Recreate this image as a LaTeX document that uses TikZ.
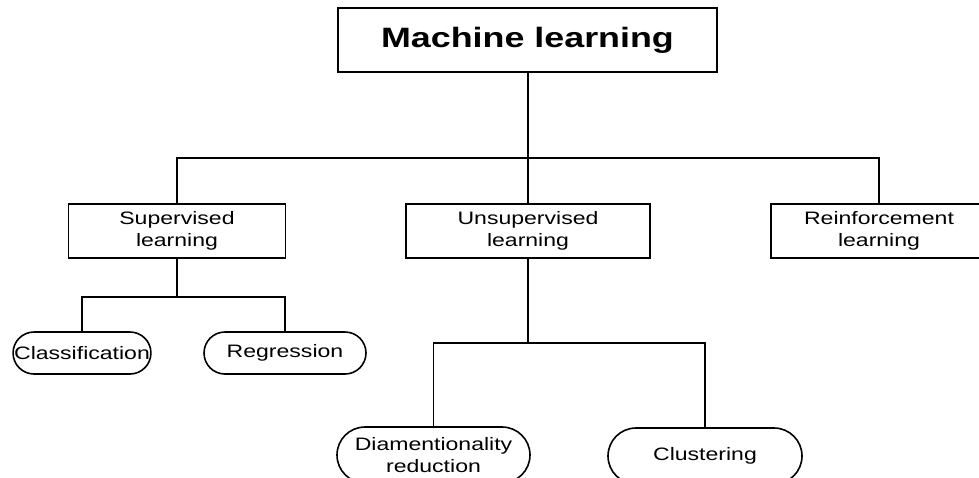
\documentclass[tikz,border=0pt]{standalone}
\usepackage{fontspec}
\newfontfamily\mlfont{Liberation Sans}[FakeStretch=1.28]
\usepackage{tikz}
\usetikzlibrary{positioning,calc,shapes.misc}
\tikzset{
  mlRoot/.style={draw, line width=1.6pt, minimum width=379pt, minimum height=64pt,
    inner sep=0pt, font=\mlfont\fontsize{28}{32}\selectfont\bfseries, align=center},
  mlBox/.style={draw, line width=1.6pt, minimum height=54pt, inner sep=0pt,
    font=\mlfont\fontsize{18}{22}\selectfont, align=center},
  mlLeaf/.style={draw, rounded rectangle, line width=1.6pt, inner xsep=0pt, inner ysep=0pt,
    font=\mlfont\fontsize{18}{22}\selectfont, align=center},
  %% Connectors
  mlLink/.style={line width=1.6pt},
}
\begin{document}
\begin{tikzpicture}[x=1pt, y=-1pt]
\useasboundingbox (0,0) rectangle (979,477);
%% Root
\node[mlRoot] (ml) at (527.5,40) {Machine learning};

%% Learning kinds
\node[mlBox, minimum width=217pt] (sup)    at (177,231) {Supervised\\learning};
\node[mlBox, minimum width=244pt] (unsup)  at (528,231) {Unsupervised\\learning};
\node[mlBox, minimum width=216pt] (reinf)  at (879,231) {Reinforcement\\learning};

%% Leaves
\node[mlLeaf, minimum width=136pt, minimum height=42pt] (classif) at (82,353)  {Classification};
\node[mlLeaf, minimum width=162pt, minimum height=42pt] (regr)    at (285,353) {Regression};
\node[mlLeaf, minimum width=193pt, minimum height=56pt] (dimred)  at (433.5,455) {Diamentionality\\reduction};
\node[mlLeaf, minimum width=194pt, minimum height=56pt] (clust)   at (705,456) {Clustering};

%% Tree links
\coordinate (topj) at (unsup.north |- 0,158);
\draw[mlLink] (ml.south -| unsup.north) -- (unsup.north);
\draw[mlLink] (sup.north) |- (topj) -| (reinf.north);

\coordinate (supj) at ($(sup.south)+(0,38)$);
\draw[mlLink] (sup.south) -- (supj);
\draw[mlLink] (classif.north) |- (supj) -| (regr.north);

\coordinate (unsj) at ($(unsup.south)+(0,84)$);
\draw[mlLink] (unsup.south) -- (unsj);
\draw[mlLink] (dimred.north) |- (unsj) -| (clust.north);
\end{tikzpicture}
\end{document}
